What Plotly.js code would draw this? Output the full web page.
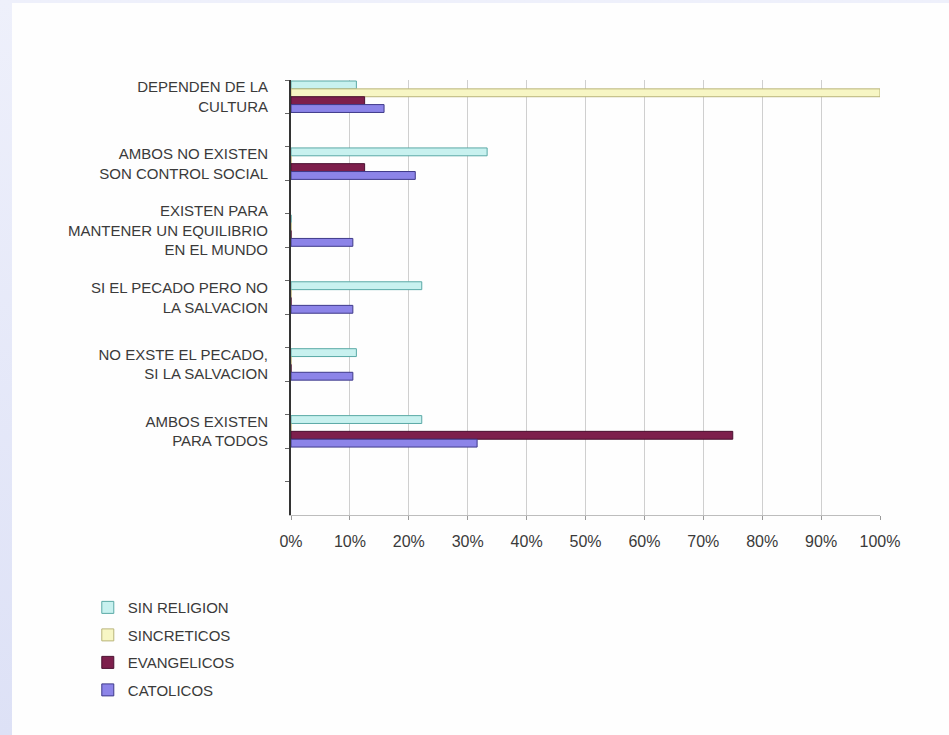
<!DOCTYPE html>
<html>
<head>
<meta charset="utf-8">
<script src="https://cdn.plot.ly/plotly-3.0.1.min.js"></script>
<style>
  html, body { margin: 0; padding: 0; width: 949px; height: 735px; overflow: hidden;
    background: linear-gradient(to bottom, #eef0fb, #dde1f6); }
  #chart { position: absolute; left: 12px; top: 3px; width: 937px; height: 732px; background: #fefefe; }
</style>
</head>
<body>
<div id="chart"></div>
<script>
// Categories (top to bottom), as printed on the chart
const categories = [
  "DEPENDEN DE LA<br>CULTURA",
  "AMBOS NO EXISTEN<br>SON CONTROL SOCIAL",
  "EXISTEN PARA<br>MANTENER UN EQUILIBRIO<br>EN EL MUNDO",
  "SI EL PECADO PERO NO<br>LA SALVACION",
  "NO EXSTE EL PECADO,<br>SI LA SALVACION",
  "AMBOS EXISTEN<br>PARA TODOS"
];
// Series values (share of each group, 0-1)
const sinReligion = [0.111, 0.333, 0.0, 0.222, 0.111, 0.222];
const sincreticos = [1.0, 0.0, 0.0, 0.0, 0.0, 0.0];
const evangelicos = [0.125, 0.125, 0.0, 0.0, 0.0, 0.75];
const catolicos   = [0.158, 0.211, 0.105, 0.105, 0.105, 0.316];
const seriesNames = ["SIN RELIGION", "SINCRETICOS", "EVANGELICOS", "CATOLICOS"];
const xTickVals = [0, 0.1, 0.2, 0.3, 0.4, 0.5, 0.6, 0.7, 0.8, 0.9, 1.0];
const xTickText = ["0%", "10%", "20%", "30%", "40%", "50%", "60%", "70%", "80%", "90%", "100%"];

// The source sheet has an empty row after each category (and one extra at the end)
const yCats = [];
categories.forEach((c, i) => { yCats.push(c); yCats.push(" ".repeat(i + 1)); });
yCats.push(" ".repeat(categories.length + 1));
function expand(vals) {
  const out = [];
  vals.forEach(v => { out.push(v); out.push(null); });
  out.push(null);
  return out;
}

const styles = [
  { fill: "#c8f1ef", line: "#5aa9a6" },
  { fill: "#f7f6c4", line: "#b9b47a" },
  { fill: "#7d1f4c", line: "#4a1030" },
  { fill: "#8c84e8", line: "#3f3a8a" }
];
const allVals = [sinReligion, sincreticos, evangelicos, catolicos];

const traces = allVals.map((vals, i) => ({
  type: "bar",
  orientation: "h",
  name: seriesNames[i],
  legendgroup: "g" + i,
  y: yCats,
  x: expand(vals),
  marker: { color: styles[i].fill, line: { color: styles[i].line, width: 1 } },
  hoverinfo: "x+name"
}));

const layout = {
  width: 937, height: 732,
  margin: { l: 279, r: 69, t: 77, b: 220 },
  paper_bgcolor: "#fefefe",
  plot_bgcolor: "#fefefe",
  barmode: "group",
  bargap: 0.06,
  bargroupgap: 0,
  font: { family: "Liberation Sans, Arial, sans-serif", color: "#3a3a3a" },
  xaxis: {
    range: [0, 1.0],
    tickvals: xTickVals,
    ticktext: xTickText,
    showgrid: true,
    gridcolor: "#cfcfcf",
    gridwidth: 1,
    zeroline: false,
    showline: true,
    linecolor: "#bdbdbd",
    ticks: "outside",
    ticklen: 4,
    tickcolor: "#9a9a9a",
    ticklabelstandoff: 8,
    tickfont: { size: 16, color: "#3a3a3a" },
    fixedrange: true
  },
  yaxis: {
    type: "category",
    categoryorder: "array",
    categoryarray: yCats,
    autorange: "reversed",
    showgrid: false,
    zeroline: false,
    showline: true,
    linecolor: "#333333",
    linewidth: 2,
    ticks: "outside",
    tickson: "boundaries",
    ticklen: 4,
    tickcolor: "#666666",
    ticklabelstandoff: 18,
    tickfont: { size: 15, color: "#3a3a3a" },
    fixedrange: true
  },
  showlegend: true,
  legend: {
    x: -0.345, xanchor: "left",
    y: -0.175, yanchor: "top",
    orientation: "v",
    traceorder: "grouped",
    tracegroupgap: 5,
    font: { size: 15, color: "#3a3a3a" },
    bgcolor: "rgba(0,0,0,0)",
    itemwidth: 30
  }
};

Plotly.newPlot("chart", traces, layout, { displayModeBar: false, staticPlot: true });
</script>
</body>
</html>
